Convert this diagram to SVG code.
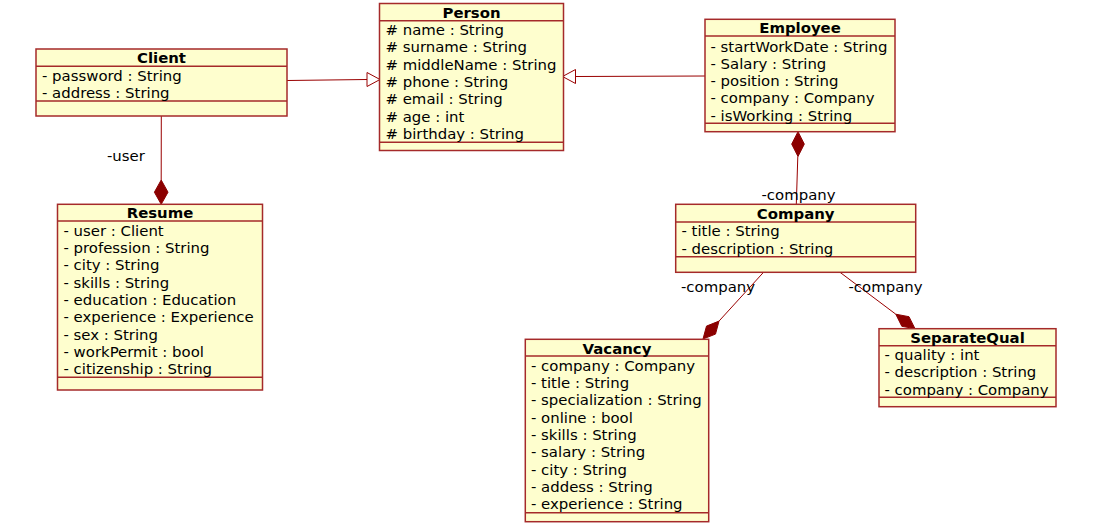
<svg xmlns="http://www.w3.org/2000/svg" width="1097" height="529" viewBox="0 0 1097 529">
<style>
.box{fill:#FEFECE;stroke:#A52A2A;stroke-width:1.5}
.sep{stroke:#A52A2A;stroke-width:1.5}
.t{font-family:"DejaVu Sans",sans-serif;font-size:14.9px;fill:#000}
.b{font-weight:bold;text-anchor:middle}
.ln{stroke:#990000;stroke-width:1;fill:none}
.tri{fill:#FFFFFF;stroke:#990000;stroke-width:1}
.dia{fill:#8B0000;stroke:#8B0000;stroke-width:1}
</style>
<rect width="1097" height="529" fill="#FFFFFF"/>
<g id="connectors">
<line class="ln" x1="287" y1="80.5" x2="367" y2="79.5"/>
<polygon class="tri" points="380,79.5 367,72.5 367,86.5"/>
<line class="ln" x1="705" y1="76" x2="575.5" y2="76.5"/>
<polygon class="tri" points="562.5,76.5 575.5,69.5 575.5,83.5"/>
<line class="ln" x1="161.3" y1="116" x2="161.2" y2="180"/>
<polygon class="dia" points="161.2,204.3 168,192.2 161.2,180 154.4,192.2"/>
<text class="t" x="107" y="161">-user</text>
<line class="ln" x1="797.8" y1="156.5" x2="796.3" y2="204.3"/>
<polygon class="dia" points="798,131.7 804.3,144.1 798,156.5 791.7,144.1"/>
<text class="t" x="761.5" y="199.5">-company</text>
<line class="ln" x1="719" y1="321.1" x2="763.5" y2="272.3"/>
<polygon class="dia" points="703,339 715.5,334.1 719,321.1 706.5,326.1"/>
<text class="t" x="681" y="292">-company</text>
<line class="ln" x1="895.8" y1="314.2" x2="840" y2="272.3"/>
<polygon class="dia" points="915,328.7 909,316.7 895.8,314.2 901.8,326.3"/>
<text class="t" x="848.5" y="292">-company</text>
</g>
<g id="Client">
<rect class="box" x="36" y="49" width="251" height="67"/>
<line class="sep" x1="36" y1="66.3" x2="287" y2="66.3"/>
<line class="sep" x1="36" y1="101" x2="287" y2="101"/>
<text class="t b" x="161.5" y="63">Client</text>
<text class="t" x="42" y="81">- password : String</text>
<text class="t" x="42" y="98.3">- address : String</text>
</g>
<g id="Person">
<rect class="box" x="379.5" y="3.5" width="184" height="147"/>
<line class="sep" x1="379.5" y1="20.7" x2="563.5" y2="20.7"/>
<line class="sep" x1="379.5" y1="142.3" x2="563.5" y2="142.3"/>
<text class="t b" x="471.5" y="17.8">Person</text>
<text class="t" x="385.5" y="35"># name : String</text>
<text class="t" x="385.5" y="52.4"># surname : String</text>
<text class="t" x="385.5" y="69.7"># middleName : String</text>
<text class="t" x="385.5" y="87.1"># phone : String</text>
<text class="t" x="385.5" y="104.4"># email : String</text>
<text class="t" x="385.5" y="121.8"># age : int</text>
<text class="t" x="385.5" y="139.1"># birthday : String</text>
</g>
<g id="Employee">
<rect class="box" x="705" y="19.3" width="190" height="112.4"/>
<line class="sep" x1="705" y1="36" x2="895" y2="36"/>
<line class="sep" x1="705" y1="123.3" x2="895" y2="123.3"/>
<text class="t b" x="800" y="33.3">Employee</text>
<text class="t" x="710.5" y="51.5">- startWorkDate : String</text>
<text class="t" x="710.5" y="68.8">- Salary : String</text>
<text class="t" x="710.5" y="86.1">- position : String</text>
<text class="t" x="710.5" y="103.4">- company : Company</text>
<text class="t" x="710.5" y="120.7">- isWorking : String</text>
</g>
<g id="Resume">
<rect class="box" x="57.5" y="204.3" width="205" height="185.7"/>
<line class="sep" x1="57.5" y1="221" x2="262.5" y2="221"/>
<line class="sep" x1="57.5" y1="377.3" x2="262.5" y2="377.3"/>
<text class="t b" x="160" y="218.4">Resume</text>
<text class="t" x="63.5" y="235.7">- user : Client</text>
<text class="t" x="63.5" y="253">- profession : String</text>
<text class="t" x="63.5" y="270.4">- city : String</text>
<text class="t" x="63.5" y="287.7">- skills : String</text>
<text class="t" x="63.5" y="305">- education : Education</text>
<text class="t" x="63.5" y="322.4">- experience : Experience</text>
<text class="t" x="63.5" y="339.7">- sex : String</text>
<text class="t" x="63.5" y="357">- workPermit : bool</text>
<text class="t" x="63.5" y="374.3">- citizenship : String</text>
</g>
<g id="Company">
<rect class="box" x="675.7" y="204.3" width="240" height="68"/>
<line class="sep" x1="675.7" y1="222" x2="915.7" y2="222"/>
<line class="sep" x1="675.7" y1="256.7" x2="915.7" y2="256.7"/>
<text class="t b" x="795.7" y="219">Company</text>
<text class="t" x="681.5" y="236.3">- title : String</text>
<text class="t" x="681.5" y="253.6">- description : String</text>
</g>
<g id="SeparateQual">
<rect class="box" x="879" y="328.7" width="177" height="78"/>
<line class="sep" x1="879" y1="345.7" x2="1056" y2="345.7"/>
<line class="sep" x1="879" y1="397.3" x2="1056" y2="397.3"/>
<text class="t b" x="967.5" y="343">SeparateQual</text>
<text class="t" x="884.5" y="360">- quality : int</text>
<text class="t" x="884.5" y="377.4">- description : String</text>
<text class="t" x="884.5" y="394.7">- company : Company</text>
</g>
<g id="Vacancy">
<rect class="box" x="525.3" y="339.3" width="183.4" height="182.4"/>
<line class="sep" x1="525.3" y1="356" x2="708.7" y2="356"/>
<line class="sep" x1="525.3" y1="512.7" x2="708.7" y2="512.7"/>
<text class="t b" x="617" y="353.5">Vacancy</text>
<text class="t" x="531" y="370.7">- company : Company</text>
<text class="t" x="531" y="388">- title : String</text>
<text class="t" x="531" y="405.4">- specialization : String</text>
<text class="t" x="531" y="422.7">- online : bool</text>
<text class="t" x="531" y="440">- skills : String</text>
<text class="t" x="531" y="457.4">- salary : String</text>
<text class="t" x="531" y="474.7">- city : String</text>
<text class="t" x="531" y="492">- addess : String</text>
<text class="t" x="531" y="509.3">- experience : String</text>
</g>
</svg>
